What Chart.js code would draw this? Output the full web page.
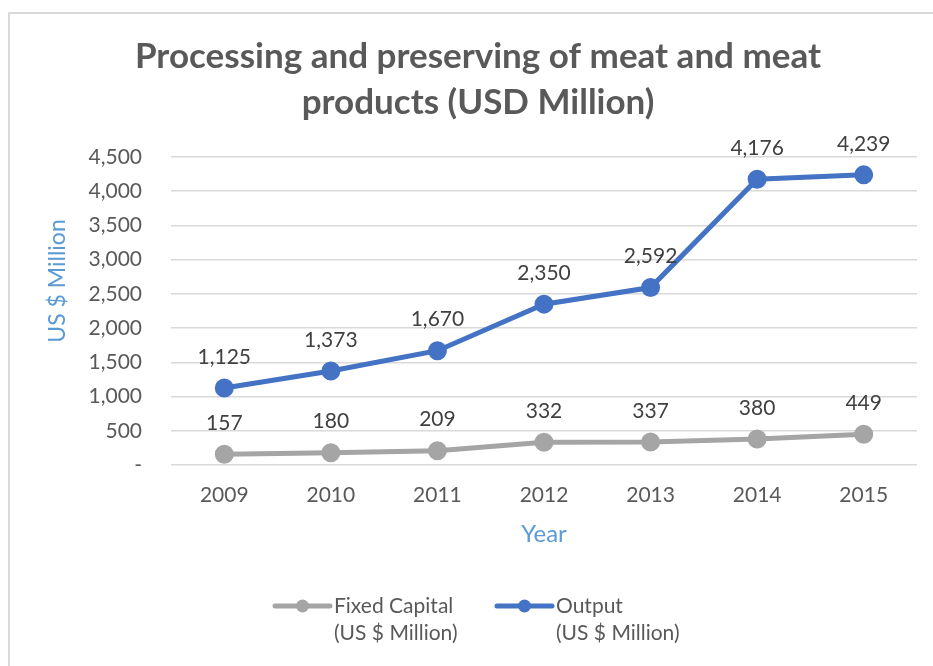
<!DOCTYPE html>
<html>
<head>
<meta charset="utf-8">
<script src="https://cdn.jsdelivr.net/npm/chart.js@4"></script>
<style>
  html, body { margin: 0; padding: 0; background: #fff; }
  #wrap { width: 933px; height: 666px; position: relative; }
</style>
</head>
<body>
<div id="wrap"><canvas id="chart"></canvas></div>
<script>
// data
const years = ["2009", "2010", "2011", "2012", "2013", "2014", "2015"];
const fixedCapital = [157, 180, 209, 332, 337, 380, 449];
const output = [1125, 1373, 1670, 2350, 2592, 4176, 4239];
const seriesNames = [["Fixed Capital", "(US $ Million)"], ["Output", "(US $ Million)"]];
const titleLines = ["Processing and preserving of meat and meat", "products (USD Million)"];

const FONT = "Lato, 'Open Sans', sans-serif";
const GRAY = "#A5A5A5";
const BLUE = "#4472C4";
const TEXT = "#595959";

const fmt = (v) => v === 0 ? "-" : v.toLocaleString("en-US");

// frame, title, y-axis title, data labels, legend
const extras = {
  id: "extras",
  afterDraw(chart) {
    const ctx = chart.ctx;
    ctx.save();

    // light frame (top + left edge)
    ctx.strokeStyle = "#D9D9D9";
    ctx.lineWidth = 2;
    ctx.beginPath();
    ctx.moveTo(9, 666);
    ctx.lineTo(9, 13);
    ctx.lineTo(933, 13);
    ctx.stroke();

    // title
    ctx.fillStyle = TEXT;
    ctx.font = "bold 35px " + FONT;
    ctx.textAlign = "center";
    ctx.textBaseline = "middle";
    ctx.fillText(titleLines[0], 478, 57);
    ctx.fillText(titleLines[1], 478, 103);

    // y axis title
    ctx.save();
    ctx.translate(58, 281);
    ctx.rotate(-Math.PI / 2);
    ctx.fillStyle = "#5B9BD5";
    ctx.font = "23px " + FONT;
    ctx.fillText("US $ Million", 0, 0);
    ctx.restore();

    // data labels above points
    ctx.fillStyle = "#404040";
    ctx.font = "21px " + FONT;
    chart.data.datasets.forEach((ds, i) => {
      const meta = chart.getDatasetMeta(i);
      meta.data.forEach((pt, j) => {
        ctx.fillText(fmt(ds.data[j]), pt.x, pt.y - 31);
      });
    });

    // legend (two-line labels)
    const items = [{ x: 275, ds: 0 }, { x: 497, ds: 1 }];
    items.forEach((it) => {
      const ds = chart.data.datasets[it.ds];
      const y = 606;
      ctx.strokeStyle = ds.borderColor;
      ctx.lineWidth = 5;
      ctx.lineCap = "round";
      ctx.beginPath();
      ctx.moveTo(it.x, y);
      ctx.lineTo(it.x + 55, y);
      ctx.stroke();
      ctx.fillStyle = ds.borderColor;
      ctx.beginPath();
      ctx.arc(it.x + 27.5, y, 6.5, 0, Math.PI * 2);
      ctx.fill();
      ctx.fillStyle = TEXT;
      ctx.font = "21px " + FONT;
      ctx.textAlign = "left";
      ds.label.forEach((line, k) => ctx.fillText(line, it.x + 59, y + k * 27));
    });

    ctx.restore();
  }
};

new Chart(document.getElementById("chart"), {
  type: "line",
  data: {
    labels: years,
    datasets: [
      {
        label: seriesNames[0],
        data: fixedCapital,
        borderColor: GRAY,
        backgroundColor: GRAY,
        borderWidth: 5,
        pointRadius: 7,
        pointHoverRadius: 7,
        tension: 0
      },
      {
        label: seriesNames[1],
        data: output,
        borderColor: BLUE,
        backgroundColor: BLUE,
        borderWidth: 5,
        pointRadius: 7,
        pointHoverRadius: 7,
        tension: 0
      }
    ]
  },
  options: {
    responsive: true,
    maintainAspectRatio: false,
    animation: false,
    layout: { padding: { top: 157, right: 16, bottom: 111, left: 0 } },
    plugins: {
      legend: { display: false },
      tooltip: { enabled: false }
    },
    scales: {
      x: {
        offset: true,
        grid: { display: false, drawTicks: false, offset: true },
        border: { display: false },
        ticks: { color: TEXT, font: { family: FONT, size: 21 }, padding: 18 },
        title: {
          display: true,
          text: "Year",
          color: "#5B9BD5",
          font: { family: FONT, size: 24 },
          padding: { top: 0, bottom: 6 }
        },
        afterFit: (s) => { s.height = 90; }
      },
      y: {
        min: 0,
        max: 4500,
        ticks: {
          stepSize: 500,
          color: TEXT,
          font: { family: FONT, size: 21 },
          padding: 29,
          callback: (v) => fmt(v)
        },
        grid: { color: "#D9D9D9", lineWidth: 1.5, drawTicks: false },
        border: { display: false },
        afterFit: (s) => { s.width = 171; }
      }
    }
  },
  plugins: [extras]
});
</script>
</body>
</html>
